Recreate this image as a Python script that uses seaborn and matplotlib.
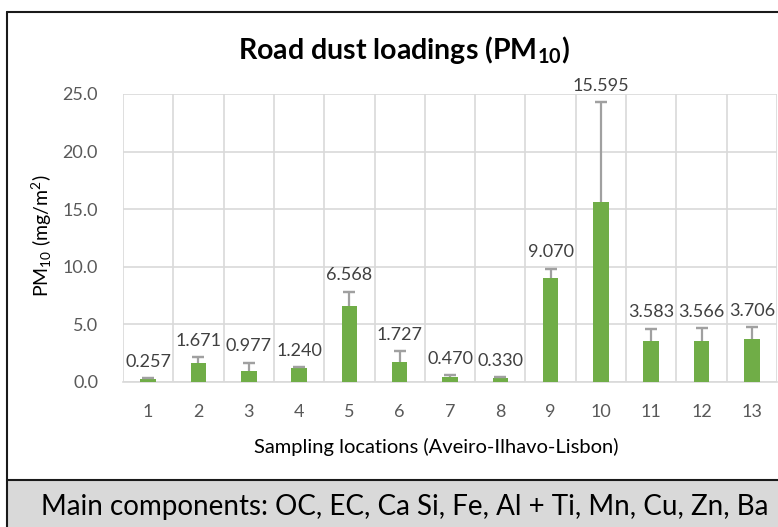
import matplotlib
matplotlib.use("Agg")
import matplotlib.pyplot as plt
from matplotlib.lines import Line2D
from matplotlib.patches import Rectangle
import seaborn as sns
import pandas as pd
import numpy as np

locations = ["1", "2", "3", "4", "5", "6", "7", "8", "9", "10", "11", "12", "13"]
pm10 = [0.257, 1.671, 0.977, 1.240, 6.568, 1.727, 0.470, 0.330, 9.070, 15.595, 3.583, 3.566, 3.706]
pm10_sd = [0.08, 0.47, 0.70, 0.05, 1.28, 0.93, 0.12, 0.11, 0.76, 8.70, 1.06, 1.10, 1.08]
y_ticks = [0, 5, 10, 15, 20, 25]
title = "Road dust loadings (PM$_{\\mathbf{10}}$)"
x_label = "Sampling locations (Aveiro-Ilhavo-Lisbon)"
y_label = "PM$_{10}$ (mg/m$^2$)"
footer = "Main components: OC, EC, Ca Si, Fe, Al + Ti, Mn, Cu, Zn, Ba"

sns.set_theme(style="white")
plt.rcParams["font.family"] = ["Lato", "DejaVu Sans"]
plt.rcParams["mathtext.fontset"] = "custom"
plt.rcParams["mathtext.rm"] = "Lato"
plt.rcParams["mathtext.it"] = "Lato:italic"
plt.rcParams["mathtext.bf"] = "Lato:bold"
plt.rcParams["mathtext.default"] = "regular"

W, H = 778, 527
fig = plt.figure(figsize=(W / 100, H / 100), dpi=100)
fig.patch.set_facecolor("white")

def fx(px):
    return px / W

def fy(py):
    return 1 - py / H

ax = fig.add_axes([fx(123), fy(382), fx(777) - fx(123), fy(94) - fy(382)])

df = pd.DataFrame({"loc": locations, "pm10": pm10})
sns.barplot(data=df, x="loc", y="pm10", color="#70AD47", saturation=1,
            width=0.31, errorbar=None, ax=ax, zorder=3, linewidth=0)

xs = np.arange(len(locations))
ax.vlines(xs, pm10, np.array(pm10) + np.array(pm10_sd), color="#a0a0a0",
          linewidth=1.6, zorder=4)
ax.errorbar(xs, np.array(pm10) + np.array(pm10_sd), yerr=0, fmt="none",
            ecolor="#a0a0a0", elinewidth=0, capsize=4, capthick=1.6, zorder=4)

for x, v, s in zip(xs, pm10, pm10_sd):
    ax.annotate(f"{v:.3f}", (x, v + s), xytext=(0, 6), textcoords="offset points",
                ha="center", va="bottom", fontsize=13, color="#404040",
                annotation_clip=False, zorder=5)

ax.set_xlim(-0.5, len(locations) - 0.5)
ax.set_ylim(0, 25)
ax.set_yticks(y_ticks)
ax.set_yticklabels([f"{t:.1f}" for t in y_ticks])
ax.set_xticks(xs)
ax.set_xticks(np.arange(-0.5, len(locations), 1), minor=True)
ax.grid(axis="y", which="major", color="#d9d9d9", linewidth=1.2, zorder=0)
ax.grid(axis="x", which="minor", color="#d9d9d9", linewidth=1.2, zorder=0)
ax.grid(axis="x", which="major", visible=False)
ax.tick_params(axis="both", which="both", length=0, labelsize=13, labelcolor="#595959")
ax.tick_params(axis="x", pad=16)
ax.tick_params(axis="y", pad=18)
for sp in ["top", "right", "left"]:
    ax.spines[sp].set_visible(False)
ax.spines["bottom"].set_color("#d9d9d9")
ax.spines["bottom"].set_linewidth(1.2)
ax.set_xlabel("")
ax.set_ylabel("")

fig.text(fx(404), fy(50), title, ha="center", va="center", fontsize=20.5,
         fontweight="bold", color="black")
fig.text(fx(42), fy(236), y_label, ha="center", va="center", rotation=90,
         fontsize=14, color="black")
fig.text(fx(436), fy(447), x_label, ha="center", va="center", fontsize=14.5,
         color="black")

# chart border
fig.add_artist(Line2D([fx(7), 1.0], [fy(12), fy(12)], color="#1a1a1a", linewidth=1.5))
fig.add_artist(Line2D([fx(7), fx(7)], [fy(12), fy(480)], color="#1a1a1a", linewidth=1.5))
# footer box
fig.add_artist(Rectangle((fx(7), 0), 1 - fx(7), fy(480), facecolor="#d9d9d9",
                         edgecolor="none", zorder=1))
fig.add_artist(Line2D([fx(7), 1.0], [fy(480), fy(480)], color="#1a1a1a", linewidth=1.5, zorder=2))
fig.add_artist(Line2D([fx(7), fx(7)], [fy(480), 0], color="#1a1a1a", linewidth=1.5, zorder=2))
fig.text(fx(405), fy(507), footer, ha="center", va="center", fontsize=20,
         color="black", zorder=3)

fig.savefig("out.png", dpi=100)
